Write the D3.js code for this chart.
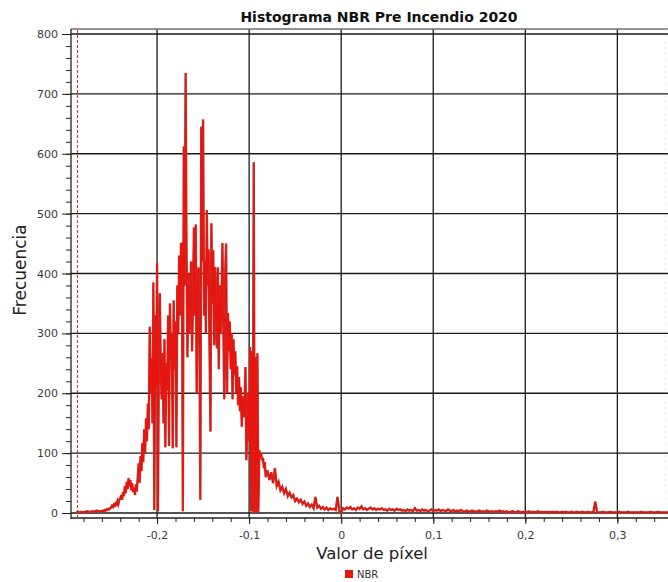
<!DOCTYPE html>
<html>
<head>
<meta charset="utf-8">
<script src="https://cdn.jsdelivr.net/npm/d3@7"></script>
<style>
  body { margin: 0; background: #fff; }
  svg { display: block; }
</style>
</head>
<body>
<svg id="chart" width="668" height="582"></svg>
<script>
// NBR pixel-value histogram (pre-fire 2020). Bins are listed in three runs:
// a coarse leading run, a fine run over the dense core and a coarse trailing run.
const headStart = -0.288, headStep = 0.002;
const headCounts = [0, 2, 1, 2, 1, 2, 3, 2, 2, 3, 2, 4, 3, 3];

const coreStart = -0.260, coreStep = 0.001;
const coreCounts = [
  3, 4, 3, 5, 4, 6, 5, 7, 6, 8,
  9, 12, 10, 14, 12, 16, 14, 20, 15, 22,
  24, 30, 22, 35, 28, 45, 33, 52, 40, 58,
  45, 55, 38, 50, 35, 42, 30, 48, 36, 60,
  83, 50, 95, 70, 117, 85, 140, 100, 158, 120,
  183, 140, 311, 200, 259, 150, 385, 5, 330, 210,
  417, 3, 280, 367, 240, 190, 267, 150, 290, 110,
  250, 205, 330, 112, 350, 260, 300, 108, 355, 240,
  320, 110, 380, 300, 430, 330, 451, 447, 3, 612,
  380, 735, 434, 260, 400, 300, 367, 420, 270, 350,
  477, 330, 482, 200, 380, 410, 300, 22, 645, 420,
  657, 330, 420, 300, 506, 380, 440, 270, 136, 484,
  350, 439, 280, 411, 330, 275, 410, 240, 380, 300,
  360, 451, 310, 190, 400, 450, 200, 334, 270, 320,
  240, 300, 190, 290, 230, 270, 200, 245, 180, 227,
  170, 210, 144, 195, 160, 180, 244, 88, 150, 200,
  120, 277, 3, 270, 2, 586, 0, 260, 0, 267,
  2, 105, 95, 100, 88, 92, 75, 85, 60, 70
];

const tailStart = -0.080, tailStep = 0.002;
const tailCounts = [
  70, 55, 68, 50, 75, 45, 52, 38, 44, 33,
  40, 28, 34, 26, 30, 20, 24, 18, 22, 15,
  19, 12, 16, 10, 14, 8, 27, 9, 12, 7,
  10, 6, 9, 5, 8, 6, 7, 5, 27, 3,
  1, 8, 6, 9, 7, 10, 6, 8, 5, 9,
  7, 11, 6, 8, 5, 7, 9, 6, 8, 5,
  7, 6, 8, 5, 6, 4, 7, 5, 6, 4,
  7, 5, 6, 4, 5, 3, 6, 4, 5, 3,
  8, 4, 5, 3, 6, 4, 5, 3, 4, 6,
  3, 5, 4, 6, 3, 5, 4, 3, 6, 4,
  3, 5, 2, 4, 3, 5, 3, 2, 4, 3,
  2, 4, 3, 2, 3, 4, 2, 3, 2, 4,
  3, 2, 3, 2, 3, 2, 4, 2, 3, 2,
  3, 1, 2, 3, 2, 1, 3, 2, 1, 2,
  1, 2, 3, 1, 2, 1, 2, 3, 1, 2,
  1, 2, 1, 2, 1, 2, 1, 2, 1, 1,
  2, 1, 2, 1, 1, 2, 1, 1, 2, 1,
  1, 2, 1, 1, 2, 1, 1, 2, 19, 1,
  1, 1, 2, 1, 1, 1, 2, 1, 1, 1,
  1, 2, 1, 1, 1, 1, 2, 1, 1, 1,
  1, 1, 1, 2, 1, 1, 1, 1, 2, 1,
  1, 1, 2, 1, 1, 1, 1, 1, 1
];

// Reference marker drawn as a dashed vertical line
const markerValue = -0.2865;

const xMajorTicks = [-0.2, -0.1, 0, 0.1, 0.2, 0.3];
const yMajorTicks = [0, 100, 200, 300, 400, 500, 600, 700, 800];

const titleText = "Histograma NBR Pre Incendio 2020";
const xTitle = "Valor de píxel";
const yTitle = "Frecuencia";
const seriesName = "NBR";

// ---- layout ----
const W = 668, H = 582;
const plot = { left: 71, right: 668, top: 29, bottom: 518 };
const lineColor = "#e8140f";
const font = "DejaVu Sans, Verdana, sans-serif";

const svg = d3.select("#chart");

const x = d3.scaleLinear().domain([-0.2935, 0.355]).range([plot.left, plot.right]);
const y = d3.scaleLinear().domain([0, 800]).range([513, 34]);

// build bin points from the three runs
function run(start, step, counts) {
  return counts.map((c, i) => ({ v: +(start + i * step).toFixed(4), c }));
}
const points = [
  ...run(headStart, headStep, headCounts),
  ...run(coreStart, coreStep, coreCounts),
  ...run(tailStart, tailStep, tailCounts)
];

// ---- grid ----
const grid = svg.append("g");
grid.selectAll("line.h").data(yMajorTicks).join("line")
  .attr("x1", plot.left).attr("x2", plot.right)
  .attr("y1", d => y(d)).attr("y2", d => y(d))
  .attr("stroke", "#1a1a1a").attr("stroke-width", 1.3);
grid.selectAll("line.v").data(xMajorTicks).join("line")
  .attr("x1", d => x(d)).attr("x2", d => x(d))
  .attr("y1", plot.top).attr("y2", plot.bottom)
  .attr("stroke", "#1a1a1a").attr("stroke-width", 1.3);

// top frame line
svg.append("line")
  .attr("x1", plot.left).attr("x2", plot.right)
  .attr("y1", plot.top).attr("y2", plot.top)
  .attr("stroke", "#6e6e6e").attr("stroke-width", 1.5);

// faint right-hand edge
svg.append("line")
  .attr("x1", 665.5).attr("x2", 665.5)
  .attr("y1", plot.top).attr("y2", plot.bottom)
  .attr("stroke", "#e4e4e4").attr("stroke-width", 1)
  .attr("stroke-dasharray", "2,4");

// marker line
svg.append("line")
  .attr("x1", x(markerValue)).attr("x2", x(markerValue))
  .attr("y1", plot.top + 1).attr("y2", plot.bottom - 1)
  .attr("stroke", "#cc2a20").attr("stroke-width", 1)
  .attr("stroke-dasharray", "3,2");

// ---- series ----
const line = d3.line().x(d => x(d.v)).y(d => y(d.c));
svg.append("path").datum(points)
  .attr("d", line).attr("fill", "none")
  .attr("stroke", "#bb3a30").attr("stroke-width", 2.4)
  .attr("stroke-linejoin", "miter");
svg.append("path").datum(points)
  .attr("d", line).attr("fill", "none")
  .attr("stroke", lineColor).attr("stroke-width", 1.3)
  .attr("stroke-linejoin", "miter");

// ---- axes ----
const fmt = d => d === 0 ? "0" : d.toFixed(1).replace(".", ",");

const xAxis = svg.append("g").attr("transform", `translate(0,${plot.bottom})`)
  .call(d3.axisBottom(x).tickValues(xMajorTicks).tickFormat(fmt).tickSize(6).tickPadding(7));
const xMinor = svg.append("g").attr("transform", `translate(0,${plot.bottom})`)
  .call(d3.axisBottom(x).tickValues(d3.range(-0.28, 0.355, 0.02)).tickFormat("").tickSize(4));

const yAxis = svg.append("g").attr("transform", `translate(${plot.left},0)`)
  .call(d3.axisLeft(y).tickValues(yMajorTicks).tickFormat(d3.format("d")).tickSize(9).tickPadding(4));
const yMinor = svg.append("g").attr("transform", `translate(${plot.left},0)`)
  .call(d3.axisLeft(y).tickValues(d3.range(0, 801, 20)).tickFormat("").tickSize(5));

[xAxis, xMinor, yAxis, yMinor].forEach(g => {
  g.select(".domain").remove();
  g.selectAll(".tick line").attr("stroke", "#222").attr("stroke-width", 1);
  g.selectAll("text").attr("font-family", font)
    .attr("font-size", 11).attr("fill", "#3a3a3a");
});

// axis lines
svg.append("line").attr("x1", plot.left).attr("x2", plot.left)
  .attr("y1", plot.top).attr("y2", plot.bottom + 1)
  .attr("stroke", "#222").attr("stroke-width", 1.3);
svg.append("line").attr("x1", plot.left).attr("x2", plot.right)
  .attr("y1", plot.bottom).attr("y2", plot.bottom)
  .attr("stroke", "#222").attr("stroke-width", 1.3);

// ---- titles ----
svg.append("text").attr("x", 379).attr("y", 22)
  .attr("text-anchor", "middle")
  .attr("font-family", font)
  .attr("font-weight", "bold").attr("font-size", 14).attr("fill", "#111")
  .text(titleText);

svg.append("text").attr("x", 372).attr("y", 559)
  .attr("text-anchor", "middle")
  .attr("font-family", font)
  .attr("font-size", 16.5).attr("fill", "#222")
  .text(xTitle);

svg.append("text")
  .attr("transform", "translate(26,270) rotate(-90)")
  .attr("text-anchor", "middle")
  .attr("font-family", font)
  .attr("font-size", 17).attr("fill", "#222")
  .text(yTitle);

// ---- legend ----
const legend = svg.append("g").attr("transform", "translate(345,570)");
legend.append("rect").attr("width", 8).attr("height", 8).attr("fill", lineColor);
legend.append("text").attr("x", 12).attr("y", 8)
  .attr("font-family", font)
  .attr("font-size", 10).attr("fill", "#333")
  .text(seriesName);
</script>
</body>
</html>
